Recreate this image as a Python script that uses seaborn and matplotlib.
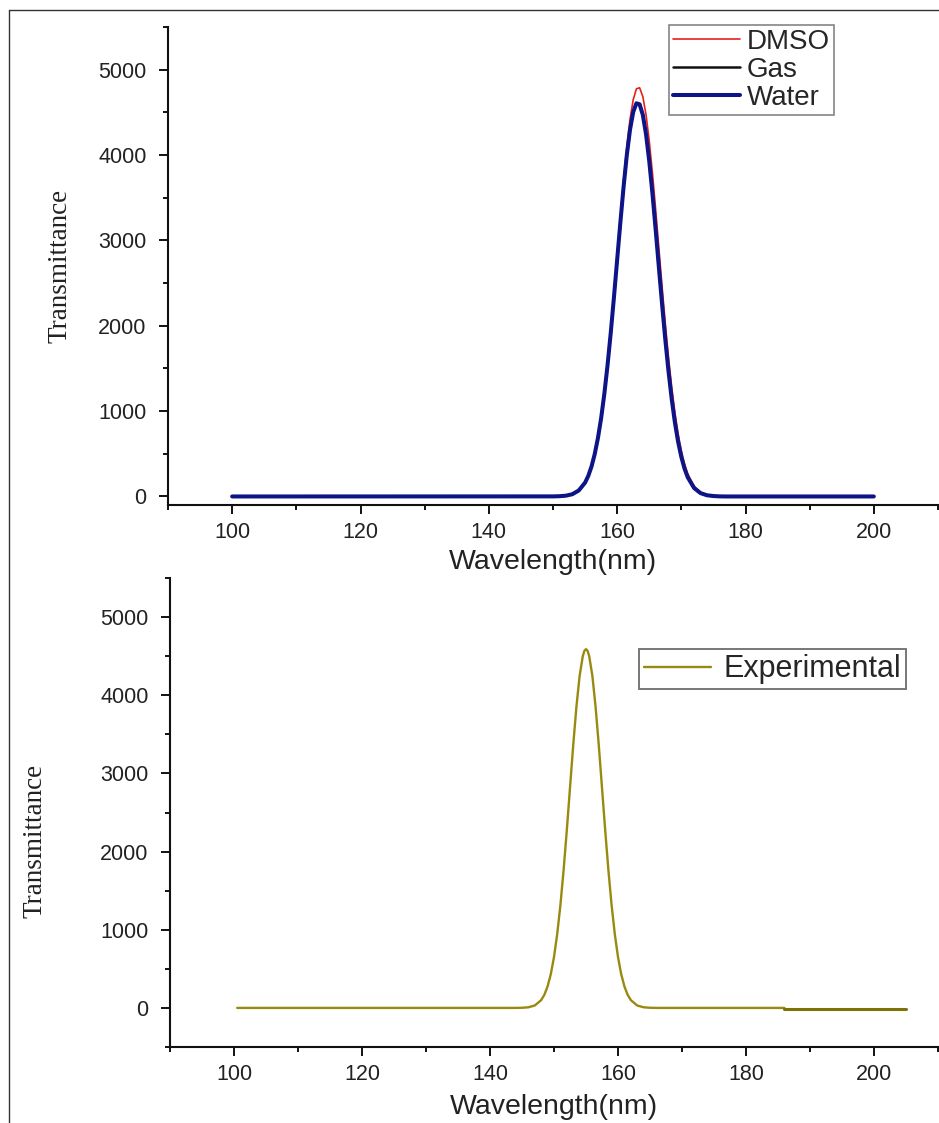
import matplotlib
matplotlib.use("Agg")
import matplotlib.pyplot as plt
from matplotlib.lines import Line2D
from matplotlib.ticker import MultipleLocator
import seaborn as sns
import pandas as pd

# ---------------- data ----------------
wavelength_top = [100, 150, 151, 152, 153, 154, 155, 155.5, 156, 156.5, 157, 157.5, 158, 158.5,
                  159, 159.5, 160, 160.5, 161, 161.5, 162, 162.5, 163, 163.5, 164, 164.5, 165,
                  165.5, 166, 166.5, 167, 167.5, 168, 168.5, 169, 169.5, 170, 170.5, 171, 172,
                  173, 174, 175, 176, 177, 200]
dmso = [0, 1, 3, 9, 27, 70, 166, 246, 355, 502, 691, 928, 1217, 1557, 1945, 2370, 2819, 3272,
        3705, 4095, 4417, 4649, 4776, 4788, 4684, 4471, 4166, 3787, 3360, 2910, 2459, 2028,
        1631, 1281, 982, 734, 536, 382, 265, 119, 48, 18, 6, 2, 0, 0]
gas = [0, 1, 3, 9, 26, 69, 162, 241, 350, 496, 683, 916, 1202, 1537, 1918, 2335, 2774, 3211,
       3627, 3997, 4296, 4504, 4606, 4594, 4470, 4243, 3928, 3547, 3124, 2684, 2251, 1839,
       1467, 1141, 865, 640, 463, 326, 224, 98, 39, 14, 5, 1, 0, 0]
water = [0, 1, 3, 9, 26, 69, 162, 241, 350, 496, 683, 916, 1202, 1537, 1918, 2335, 2774, 3211,
         3627, 3997, 4296, 4504, 4606, 4594, 4470, 4243, 3928, 3547, 3124, 2684, 2251, 1839,
         1467, 1141, 865, 640, 463, 326, 224, 98, 39, 14, 5, 1, 0, 0]

wavelength_exp = [100.5, 144, 145, 146, 147, 148, 148.5, 149, 149.5, 150, 150.5, 151, 151.5,
                  152, 152.5, 153, 153.5, 154, 154.5, 154.75, 155, 155.25, 155.5, 156, 156.5,
                  157, 157.5, 158, 158.5, 159, 159.5, 160, 160.5, 161, 161.5, 162, 163, 164,
                  165, 166, 186]
experimental = [0, 0, 2, 8, 31, 100, 169, 276, 432, 651, 944, 1315, 1762, 2272, 2817, 3358,
                3850, 4246, 4501, 4568, 4590, 4568, 4501, 4246, 3850, 3358, 2817, 2272, 1762,
                1315, 944, 651, 432, 276, 169, 100, 31, 8, 2, 0, 0]
wavelength_tail = [186, 205]
experimental_tail = [-8, -8]

x_ticks = [100, 120, 140, 160, 180, 200]
y_ticks = [0, 1000, 2000, 3000, 4000, 5000]

# ---------------- styling ----------------
sns.set_style("ticks")
plt.rcParams["font.family"] = ["Liberation Sans", "DejaVu Sans"]

W, H = 939, 1123
fig = plt.figure(figsize=(W / 100, H / 100), dpi=100)

def frac_x(px):
    return px / W

def frac_y(py):
    return 1 - py / H

ax1 = fig.add_axes([frac_x(168), frac_y(505), (938 - 168) / W, (505 - 27) / H])
ax2 = fig.add_axes([frac_x(170), frac_y(1047), (938 - 170) / W, (1047 - 578) / H])

df_top = pd.DataFrame({"wl": wavelength_top, "DMSO": dmso, "Gas": gas, "Water": water})
sns.lineplot(data=df_top, x="wl", y="DMSO", ax=ax1, color="#e8201c", lw=1.2, label="DMSO",
             estimator=None)
sns.lineplot(data=df_top, x="wl", y="Gas", ax=ax1, color="#111111", lw=1.8, label="Gas",
             estimator=None)
sns.lineplot(data=df_top, x="wl", y="Water", ax=ax1, color="#0d1487", lw=2.9, label="Water",
             estimator=None)

df_exp = pd.DataFrame({"wl": wavelength_exp, "Experimental": experimental})
df_tail = pd.DataFrame({"wl": wavelength_tail, "val": experimental_tail})
sns.lineplot(data=df_exp, x="wl", y="Experimental", ax=ax2, color="#988a10", lw=1.7,
             label="Experimental", estimator=None)
sns.lineplot(data=df_tail, x="wl", y="val", ax=ax2, color="#7d7108", lw=2.2, estimator=None)

for ax, ylim in ((ax1, (-100, 5500)), (ax2, (-500, 5500))):
    ax.set_xlim(90, 210)
    ax.set_ylim(*ylim)
    ax.set_xticks(x_ticks)
    ax.set_yticks(y_ticks)
    ax.xaxis.set_minor_locator(MultipleLocator(10))
    ax.yaxis.set_minor_locator(MultipleLocator(500))
    ax.spines["top"].set_visible(False)
    ax.spines["right"].set_visible(False)
    for s in ("left", "bottom"):
        ax.spines[s].set_linewidth(1.5)
        ax.spines[s].set_color("#111111")
    ax.tick_params(which="major", length=6.5, width=1.4, color="#111111", labelsize=15.5,
                   labelcolor="#222222", pad=6)
    ax.tick_params(axis="y", which="major", pad=9)
    ax.tick_params(which="minor", length=3.5, width=1.4, color="#111111")
    ax.set_xlabel("Wavelength(nm)", fontsize=20.5, color="#222222")
    ax.set_ylabel("Transmittance", fontsize=19.5, family=["Liberation Serif", "DejaVu Serif"],
                  color="#222222")
    ax.set_facecolor("white")

ax1.xaxis.set_label_coords(0.5, -(562 - 505) / 478)
ax1.yaxis.set_label_coords((60 - 168) / 770, 0.5)
ax2.xaxis.set_label_coords(0.5, -(1107 - 1047) / 469)
ax2.yaxis.set_label_coords((35 - 170) / 768, 0.44)
for ax in (ax1, ax2):
    ax.xaxis.label.set_va("center")
    ax.yaxis.label.set_va("center")

leg1 = ax1.legend(loc="upper left", bbox_to_anchor=(frac_x(669), frac_y(25)),
                  bbox_transform=fig.transFigure, borderaxespad=0, fontsize=20,
                  handlelength=2.4, handletextpad=0.25, labelspacing=0.07, borderpad=0.15,
                  fancybox=False, frameon=True)
leg1.get_frame().set_edgecolor("#666666")
leg1.get_frame().set_linewidth(1.2)

leg2 = ax2.legend(loc="upper left", bbox_to_anchor=(frac_x(639), frac_y(649)),
                  bbox_transform=fig.transFigure, borderaxespad=0, fontsize=22,
                  handlelength=2.2, handletextpad=0.4, borderpad=0.17,
                  fancybox=False, frameon=True)
leg2.get_frame().set_edgecolor("#555555")
leg2.get_frame().set_linewidth(1.4)

# outer border lines (top and left)
fig.add_artist(Line2D([frac_x(9), frac_x(9)], [frac_y(10), 0], color="#333333", lw=1.0,
                      transform=fig.transFigure))
fig.add_artist(Line2D([frac_x(9), 1], [frac_y(10), frac_y(10)], color="#333333", lw=1.0,
                      transform=fig.transFigure))

fig.savefig("out.png", dpi=100, facecolor="white")
